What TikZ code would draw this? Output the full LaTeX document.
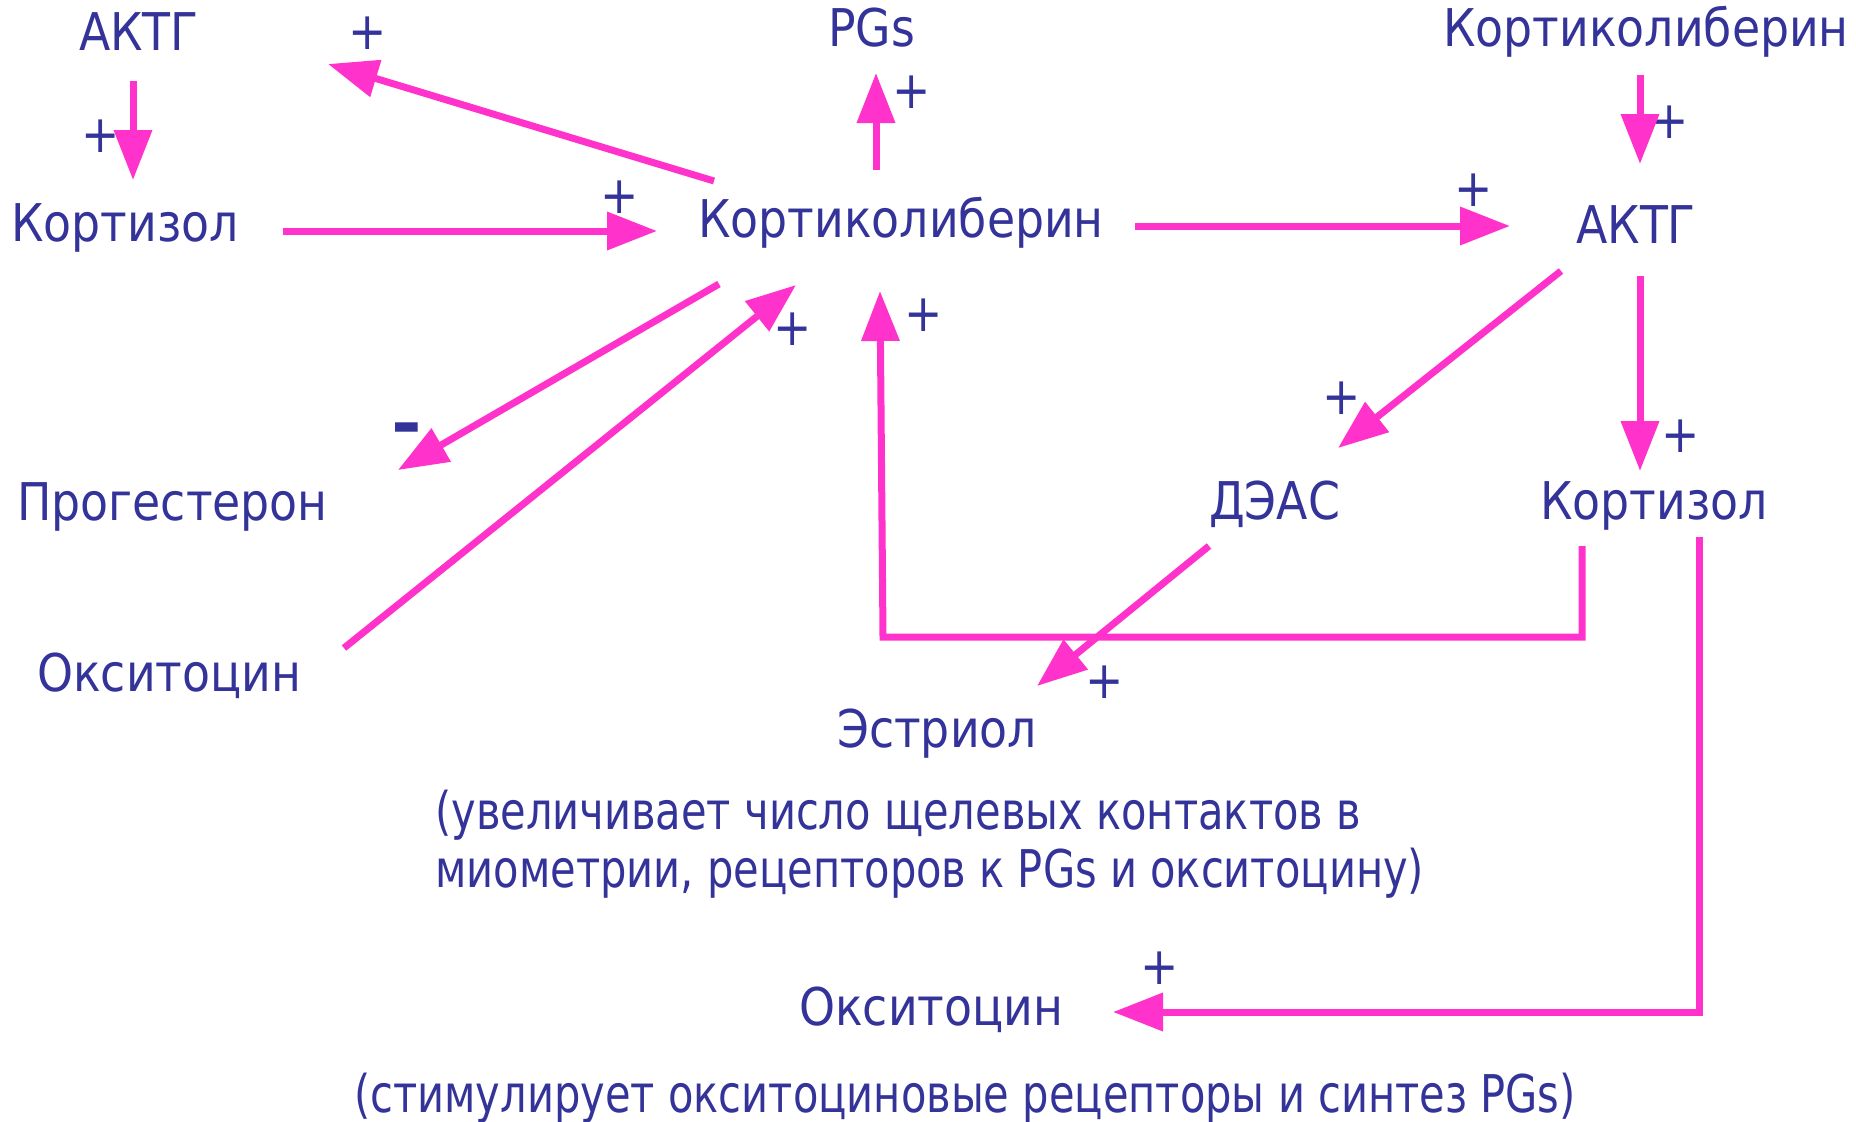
\documentclass[tikz,border=0pt]{standalone}
\usepackage{fontspec}
\setmainfont{DejaVu Sans}[FakeStretch=0.88]
\newfontfamily\narrowfont{DejaVu Sans}[FakeStretch=0.80]
\usetikzlibrary{arrows.meta}
\definecolor{txt}{HTML}{333399}
\definecolor{pk}{HTML}{FF33CC}
\begin{document}
\begin{tikzpicture}[x=1pt,y=-1pt,
  lbl/.style={inner sep=0pt, anchor=base west, text=txt, font=\fontsize{52}{57}\selectfont},
  para/.style={lbl, font=\fontsize{52}{57}\narrowfont},
  pls/.style={inner sep=0pt, anchor=center, text=txt, font=\fontsize{52}{52}\selectfont},
  arr/.style={draw=pk, line width=7pt, -{Triangle[length=50pt,width=37pt]}},
  ln/.style={draw=pk, line width=7pt}]
\useasboundingbox[fill=white] (0,0) rectangle (1856,1122);

% text nodes
\node[lbl] (aktgL) at (79,50) {АКТГ};
\node[lbl] (pgs) at (828,46) {PGs};
\node[lbl] (crhR) at (1443,46) {Кортиколиберин};
\node[lbl] (cortL) at (11,241) {Кортизол};
\node[lbl] (crh) at (698,237) {Кортиколиберин};
\node[lbl] (aktgR) at (1576,243) {АКТГ};
\node[lbl] (prog) at (17,520) {Прогестерон};
\node[lbl] (deas) at (1209,519) {ДЭАС};
\node[lbl] (cortR) at (1540,519) {Кортизол};
\node[lbl] (oxyL) at (37,691) {Окситоцин};
\node[lbl] (estr) at (837,747) {Эстриол};
\node[para] (par1) at (435,829) {(увеличивает число щелевых контактов в};
\node[para] (par2) at (435,887) {миометрии, рецепторов к PGs и окситоцину)};
\node[lbl] (oxyB) at (799,1025) {Окситоцин};
\node[para] (note) at (354,1112) {(стимулирует окситоциновые рецепторы и синтез PGs)};

% signs
\node[pls] (p1) at (368,33) {+};
\node[pls] (p2) at (912,92) {+};
\node[pls] (p3) at (1670,122) {+};
\node[pls] (p4) at (101,136) {+};
\node[pls] (p5) at (620,197) {+};
\node[pls] (p6) at (1474,190) {+};
\node[pls] (p7) at (793,329) {+};
\node[pls] (p8) at (924,315) {+};
\node[pls] (p9) at (1342,398) {+};
\node[pls] (p10) at (1681,436) {+};
\node[pls] (p11) at (1105,682) {+};
\node[pls] (p12) at (1160,968) {+};
\node[inner sep=0pt, anchor=north, text=txt, font=\fontsize{60}{60}\selectfont\bfseries] (minus) at (407,423) {\scalebox{1.4}[1.1]{-}};

% connector end points
\coordinate (a1) at (133,81);   \coordinate (a2) at (133,180);
\coordinate (b1) at (714,181);  \coordinate (b2) at (328,64);
\coordinate (c1) at (876,170);  \coordinate (c2) at (876,73);
\coordinate (d1) at (1640,75);  \coordinate (d2) at (1640,164);
\coordinate (e1) at (283,231);  \coordinate (e2) at (657,231);
\coordinate (f1) at (1135,226); \coordinate (f2) at (1510,226);
\coordinate (g1) at (719,284);  \coordinate (g2) at (398,470);
\coordinate (h1) at (344,648);  \coordinate (h2) at (796,285);
\coordinate (i1) at (1582,546); \coordinate (i2) at (1582,637);
\coordinate (i3) at (883,637);  \coordinate (i4) at (880,291);
\coordinate (j1) at (1561,271); \coordinate (j2) at (1338,448);
\coordinate (k1) at (1640,276); \coordinate (k2) at (1640,471);
\coordinate (l1) at (1209,546); \coordinate (l2) at (1037,686);
\coordinate (m1) at (1699,537); \coordinate (m2) at (1699,1012);
\coordinate (m3) at (1113,1012);

% connectors
\draw[arr] (a1) -- (a2);
\draw[arr] (b1) -- (b2);
\draw[arr] (c1) -- (c2);
\draw[arr] (d1) -- (d2);
\draw[arr] (e1) -- (e2);
\draw[arr] (f1) -- (f2);
\draw[arr] (g1) -- (g2);
\draw[arr] (h1) -- (h2);
\draw[arr] (i1) -- (i2) -- (i3) -- (i4);
\draw[arr] (j1) -- (j2);
\draw[arr] (k1) -- (k2);
\draw[arr] (l1) -- (l2);
\draw[arr] (m1) -- (m2) -- (m3);
\end{tikzpicture}
\end{document}
